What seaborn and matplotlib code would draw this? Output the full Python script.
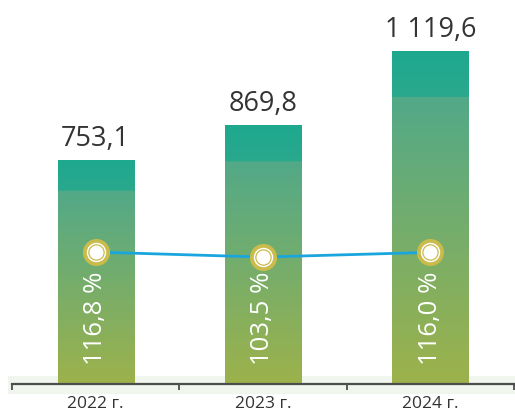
import matplotlib
matplotlib.use("Agg")
import matplotlib.pyplot as plt
import numpy as np
import pandas as pd
import seaborn as sns
from matplotlib.colors import to_rgb
from matplotlib.patches import Rectangle

# data
years = ["2022 г.", "2023 г.", "2024 г."]
revenue = [753.1, 869.8, 1119.6]
growth_pct = [116.8, 103.5, 116.0]

TEXT_COLOR = "#333333"
LINE_COLOR = "#1aa6dd"
MARKER_COLOR = "#c9bb4c"

sns.set_theme(style="white")
plt.rcParams["font.family"] = ["Open Sans", "DejaVu Sans"]


def fmt_num(v):
    return f"{v:,.1f}".replace(",", " ").replace(".", ",")


def bar_gradient(n=256):
    # vertical gradient, row 0 = bottom of bar
    f = np.linspace(0, 1, n)
    bottom, mid, band_lo, band_hi = (np.array(to_rgb(c)) for c in
                                     ["#9db24b", "#52a988", "#2aa98c", "#1ea88f"])
    split = 0.86
    rows = []
    for t in f:
        if t < split:
            rows.append(bottom + (mid - bottom) * (t / split))
        else:
            rows.append(band_lo + (band_hi - band_lo) * ((t - split) / (1 - split)))
    return np.array(rows)[:, None, :]


def main():
    df = pd.DataFrame({"year": years, "revenue": revenue, "pct": growth_pct})

    fig = plt.figure(figsize=(5.15, 4.12), dpi=100)
    fig.patch.set_facecolor("white")

    # light band behind the axis line
    fig.patches.append(Rectangle((8 / 515, 18 / 412), 1 - 8 / 515, 18 / 412,
                                 transform=fig.transFigure, facecolor="#f0f5ee",
                                 edgecolor="none", zorder=-1))

    ax = fig.add_axes([12 / 515, 28 / 412, 502 / 515, 384 / 412])
    ax.set_facecolor("none")

    sns.barplot(data=df, x="year", y="revenue", width=0.455, color="#55a986",
                ax=ax, zorder=2)

    grad = bar_gradient()
    for patch in ax.patches:
        x0, w, h = patch.get_x(), patch.get_width(), patch.get_height()
        img = ax.imshow(grad, extent=[x0, x0 + w, 0, h], origin="lower",
                        aspect="auto", zorder=2.5)
        img.set_clip_path(patch)
        patch.set_facecolor("none")
        patch.set_edgecolor("none")

    for i, v in enumerate(revenue):
        ax.annotate(fmt_num(v), (i, v), xytext=(0, 10), textcoords="offset points",
                    ha="center", va="baseline", fontsize=19.5, color=TEXT_COLOR)
        ax.text(i, 222, f"{fmt_num(growth_pct[i])} %", rotation=90, ha="center",
                va="center", fontsize=18.5, color="white", zorder=5)

    ax.set_xlim(-0.5, 2.5)
    ax.set_ylim(0, 1290)
    ax.set_xlabel("")
    ax.set_ylabel("")
    ax.set_yticks([])
    for side in ["top", "left", "right"]:
        ax.spines[side].set_visible(False)
    ax.spines["bottom"].set_color("#4d4d4d")
    ax.spines["bottom"].set_linewidth(1.6)
    ax.spines["bottom"].set_zorder(4)
    ax.set_xticks([0, 1, 2])
    ax.set_xticklabels(years, fontsize=12.5, color=TEXT_COLOR)
    ax.set_xticks([-0.5, 0.5, 1.5, 2.5], minor=True)
    ax.tick_params(axis="x", which="major", length=0, pad=9)
    ax.tick_params(axis="x", which="minor", length=4.5, width=1.3,
                   color="#4d4d4d", direction="out", bottom=True)

    # growth line on its own scale
    ax2 = ax.twinx()
    ax2.set_ylim(-234, 787)
    ax2.set_yticks([])
    for side in ax2.spines:
        ax2.spines[side].set_visible(False)
    x = np.arange(len(growth_pct))
    ax2.plot(x, growth_pct, color=LINE_COLOR, lw=2, zorder=3)
    ax2.plot(x, growth_pct, "o", ms=19.5, color=MARKER_COLOR, mec="none", zorder=4)
    ax2.plot(x, growth_pct, "o", ms=14, color="white", mec="none", zorder=5)
    ax2.plot(x, growth_pct, "o", ms=11, mfc="white", mec=MARKER_COLOR, mew=0.9,
             zorder=6)

    fig.savefig("out.png", dpi=100)


if __name__ == "__main__":
    main()
